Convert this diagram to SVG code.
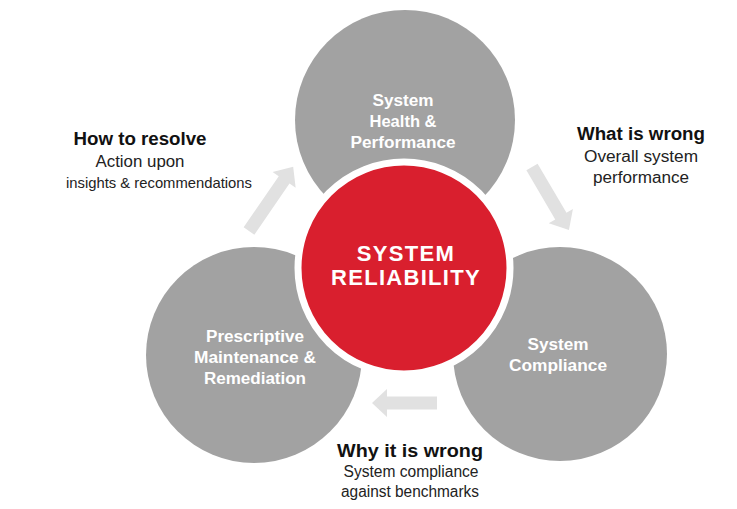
<svg xmlns="http://www.w3.org/2000/svg" width="737" height="509" viewBox="0 0 737 509">
<style>
.gray{fill:#a2a2a2}
.red{fill:#d91f2e;stroke:#ffffff;stroke-width:7}
.ntxt{font-family:"Liberation Sans",Arial,sans-serif;font-weight:bold;font-size:16px;fill:#ffffff;text-anchor:middle}
.ctxt{font-family:"Liberation Sans",Arial,sans-serif;font-weight:bold;font-size:22px;fill:#ffffff;text-anchor:middle;letter-spacing:1.3px}
.head{font-family:"Liberation Sans",Arial,sans-serif;font-weight:bold;font-size:18px;fill:#111111;text-anchor:middle}
.body{font-family:"Liberation Sans",Arial,sans-serif;font-size:16px;fill:#222222;text-anchor:middle}
.arrow{fill:#e1e1e1}
</style>
<rect width="737" height="509" fill="#ffffff"/>
<g id="connectors">
<path class="arrow" transform="translate(249,231) rotate(-55.5)" d="M0,-6.5 H62 V-14 L78,0 L62,14 V6.5 H0 Z"/>
<path class="arrow" transform="translate(532,167) rotate(59.6)" d="M0,-6.5 H57 V-14 L73,0 L57,14 V6.5 H0 Z"/>
<path class="arrow" transform="translate(437,403) rotate(180)" d="M0,-6.5 H50 V-14 L65,0 L50,14 V6.5 H0 Z"/>
</g>
<g id="node-health">
<circle class="gray" cx="405" cy="120" r="110"/>
<text class="ntxt" x="403" y="106" textLength="61" lengthAdjust="spacingAndGlyphs">System</text>
<text class="ntxt" x="403" y="127" textLength="67" lengthAdjust="spacingAndGlyphs">Health &amp;</text>
<text class="ntxt" x="403" y="148" textLength="105" lengthAdjust="spacingAndGlyphs">Performance</text>
</g>
<g id="node-maintenance">
<circle class="gray" cx="254" cy="355" r="108"/>
<text class="ntxt" x="255" y="342" textLength="98" lengthAdjust="spacingAndGlyphs">Prescriptive</text>
<text class="ntxt" x="255" y="363" textLength="122" lengthAdjust="spacingAndGlyphs">Maintenance &amp;</text>
<text class="ntxt" x="255" y="384" textLength="102" lengthAdjust="spacingAndGlyphs">Remediation</text>
</g>
<g id="node-compliance">
<circle class="gray" cx="560" cy="354" r="107"/>
<text class="ntxt" x="558" y="350" textLength="61" lengthAdjust="spacingAndGlyphs">System</text>
<text class="ntxt" x="558" y="371" textLength="98" lengthAdjust="spacingAndGlyphs">Compliance</text>
</g>
<g id="node-reliability">
<circle class="red" cx="404" cy="268" r="106"/>
<text class="ctxt" x="406" y="261">SYSTEM</text>
<text class="ctxt" x="406" y="285">RELIABILITY</text>
</g>
<g id="label-resolve">
<text class="head" x="140" y="145" textLength="133" lengthAdjust="spacingAndGlyphs">How to resolve</text>
<text class="body" x="140" y="167" textLength="89" lengthAdjust="spacingAndGlyphs">Action upon</text>
<text class="body" x="159" y="188" style="font-size:14.8px">insights &amp; recommendations</text>
</g>
<g id="label-what">
<text class="head" x="641" y="140" textLength="128" lengthAdjust="spacingAndGlyphs">What is wrong</text>
<text class="body" x="641" y="162" textLength="114" lengthAdjust="spacingAndGlyphs">Overall system</text>
<text class="body" x="641" y="183" textLength="96" lengthAdjust="spacingAndGlyphs">performance</text>
</g>
<g id="label-why">
<text class="head" x="410" y="457" textLength="146" lengthAdjust="spacingAndGlyphs">Why it is wrong</text>
<text class="body" x="411" y="477" textLength="135" lengthAdjust="spacingAndGlyphs">System compliance</text>
<text class="body" x="410" y="497" textLength="138" lengthAdjust="spacingAndGlyphs">against benchmarks</text>
</g>
</svg>
